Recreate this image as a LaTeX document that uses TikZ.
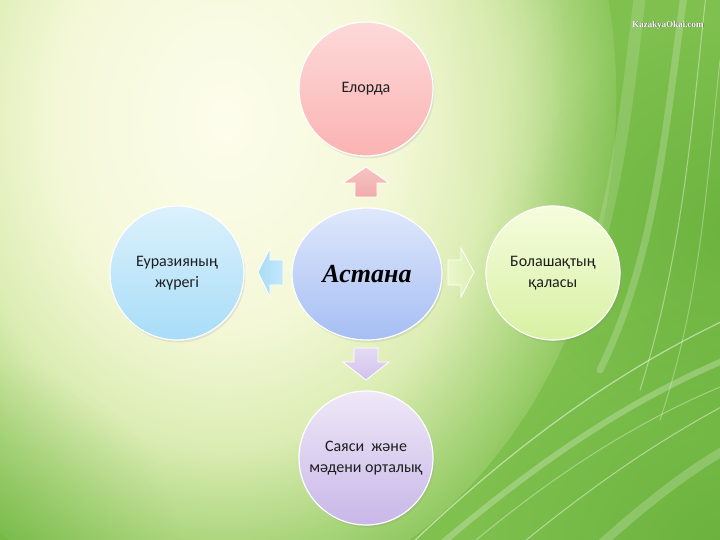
\documentclass[tikz,border=0pt]{standalone}
\usepackage{fontspec}
\setmainfont{Carlito}
\newfontfamily\titlefont{Liberation Serif}
\usetikzlibrary{shapes.geometric,shadows,fadings}
\definecolor{bgD}{HTML}{7FC04E}
\definecolor{bgA}{HTML}{FDFDEC}
\definecolor{bgB}{HTML}{F4F8D8}
\definecolor{bgC}{HTML}{DCEDB4}
\definecolor{bgE}{HTML}{A8D47A}
\definecolor{bgDark}{HTML}{55A52C}
\definecolor{txt}{HTML}{1E1E1E}
\definecolor{pinkA}{HTML}{FDD9D9}\definecolor{pinkB}{HTML}{FBB3B3}
\definecolor{pinkArA}{HTML}{F6C4C4}\definecolor{pinkArB}{HTML}{F2ABAB}
\definecolor{blueA}{HTML}{DCF1FC}\definecolor{blueB}{HTML}{A8DDF8}
\definecolor{blueArA}{HTML}{C4E8FA}\definecolor{blueArB}{HTML}{A9DCF5}
\definecolor{greenA}{HTML}{F6FCDE}\definecolor{greenB}{HTML}{D7F1A2}
\definecolor{greenArA}{HTML}{E9F6CC}\definecolor{greenArB}{HTML}{DDF0B4}
\definecolor{lilaA}{HTML}{EFE8F7}\definecolor{lilaB}{HTML}{C8B7E8}
\definecolor{lilaArA}{HTML}{E4DAF4}\definecolor{lilaArB}{HTML}{D2C2EC}
\definecolor{midA}{HTML}{DFE8FB}\definecolor{midB}{HTML}{A6BEF4}
\pgfdeclareradialshading{bgglow}{\pgfpoint{0bp}{0bp}}{color(0bp)=(bgA); color(10bp)=(bgB); color(16bp)=(bgC); color(21bp)=(bgE); color(25bp)=(bgD); color(50bp)=(bgD)}
\tikzfading[name=softfade, inner color=transparent!0, outer color=transparent!100]
\tikzset{
  bubble/.style={circle, minimum size=134pt, inner sep=0pt, draw=white, line width=1.2pt,
    align=center, text=txt, font=\fontsize{16}{21}\selectfont,
    drop shadow={opacity=0.15, shadow xshift=1.5pt, shadow yshift=-2.5pt}},
  blockarrow/.style={draw=white, line width=0.8pt},
  streak/.style={white, line cap=round}
}
\begin{document}
\begin{tikzpicture}[x=1pt,y=-1pt]
\useasboundingbox (0,0) rectangle (720,540);
% background
\fill[bgD] (0,0) rectangle (720,540);
\begin{scope}
\clip (0,0) rectangle (720,540);
\shade[shading=bgglow, rotate around={-6:(225,120)}] (225,120) ellipse [x radius=390, y radius=490];
\fill[color=bgDark, path fading=softfade, fill opacity=0.45] (730,230) circle (210);
\fill[color=bgDark, path fading=softfade, fill opacity=0.5] (730,560) circle (260);
\fill[color=bgDark, path fading=softfade, fill opacity=0.25] (-20,560) circle (200);
\fill[color=bgC, path fading=softfade, fill opacity=0.35] (510,60) ellipse [x radius=60, y radius=160];
% light streaks
\draw[streak, opacity=0.5, line width=1.2pt] (410,545) .. controls (520,440) and (620,370) .. (725,320);
\draw[streak, opacity=0.25, line width=6pt] (440,545) .. controls (540,460) and (630,400) .. (725,360);
\draw[streak, opacity=0.45, line width=1pt] (520,545) .. controls (600,480) and (660,440) .. (725,405);
\draw[streak, opacity=0.2, line width=9pt] (600,545) .. controls (650,500) and (690,470) .. (725,450);
\draw[streak, opacity=0.35, line width=1pt] (470,545) .. controls (560,470) and (640,420) .. (725,385);
\draw[streak, opacity=0.4, line width=1pt] (706,-5) .. controls (692,120) and (684,250) .. (640,390);
\draw[streak, opacity=0.2, line width=7pt] (684,-5) .. controls (664,140) and (654,260) .. (600,370);
\draw[streak, opacity=0.3, line width=1pt] (720,60) .. controls (705,200) and (700,300) .. (660,420);
\draw[streak, opacity=0.15, line width=12pt] (640,-5) .. controls (625,120) and (615,220) .. (570,330);
\end{scope}
% watermark
\node[font=\titlefont\bfseries\fontsize{9}{9}\selectfont, text=black!70] (wmshadow) at (668.6,25.6) {KazakyaOkai.com};
\node[font=\titlefont\bfseries\fontsize{9}{9}\selectfont, text=white] (wm) at (668,25) {KazakyaOkai.com};
% block arrows
\path[blockarrow, top color=pinkArA, bottom color=pinkArB] (355,197) -- (355,183) -- (343,183) -- (366,167) -- (389,183) -- (377,183) -- (377,197) -- cycle;
\path[blockarrow, left color=greenArA, right color=greenArB] (448,260) -- (461,260) -- (461,248) -- (474,272) -- (461,297) -- (461,285) -- (448,285) -- cycle;
\path[blockarrow, right color=blueArA, left color=blueArB] (283,260) -- (270,260) -- (270,248) -- (258,272) -- (270,297) -- (270,285) -- (283,285) -- cycle;
\path[blockarrow, top color=lilaArA, bottom color=lilaArB] (354,348) -- (378,348) -- (378,362) -- (389,362) -- (366,380) -- (343,362) -- (354,362) -- cycle;
% nodes
\node[bubble, top color=pinkA, bottom color=pinkB] (elorda) at (366,89) {Елорда};
\node[bubble, top color=blueA, bottom color=blueB] (eurasia) at (177,273) {Еуразияның\\жүрегі};
\node[bubble, top color=greenA, bottom color=greenB] (future) at (553,273) {Болашақтың\\қаласы};
\node[bubble, top color=lilaA, bottom color=lilaB] (centre) at (366,458) {Саяси\ \ және\\мәдени орталық};
\node[ellipse, minimum width=150pt, minimum height=132pt, inner sep=0pt, draw=white, line width=1.2pt,
  top color=midA, bottom color=midB, text=black,
  drop shadow={opacity=0.15, shadow xshift=1.5pt, shadow yshift=-2.5pt},
  font=\titlefont\bfseries\itshape\fontsize{26}{30}\selectfont] (astana) at (367,274) {Астана};
\end{tikzpicture}
\end{document}
